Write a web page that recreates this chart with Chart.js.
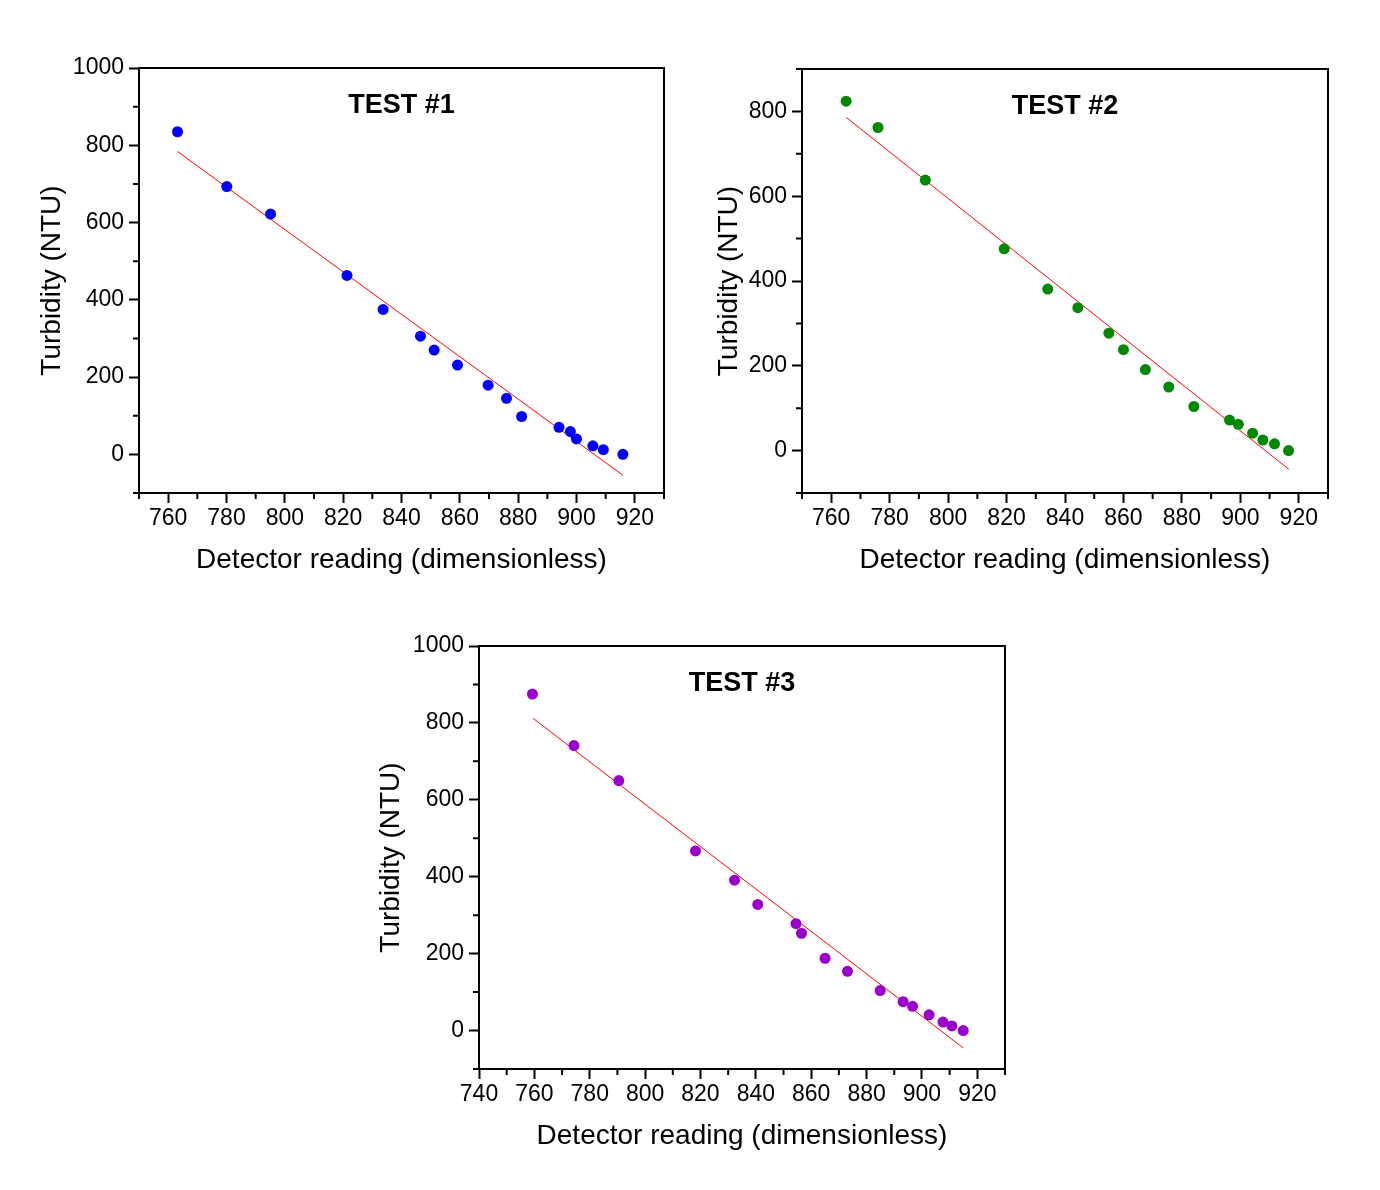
<!DOCTYPE html>
<html>
<head>
<meta charset="utf-8">
<script src="https://cdn.jsdelivr.net/npm/chart.js@4.4.1/dist/chart.umd.min.js"></script>
<style>
  body { margin: 0; background: #fff; }
  #wrap { position: relative; width: 1380px; height: 1190px; }
  canvas { position: absolute; }
</style>
</head>
<body>
<div id="wrap">
  <canvas id="c1" width="680" height="560" style="left:0px;top:40px"></canvas>
  <canvas id="c2" width="664" height="560" style="left:690px;top:40px"></canvas>
  <canvas id="c3" width="691" height="558" style="left:340px;top:618px"></canvas>
</div>
<script>
// readings taken off the three test plots
const test1X = [763.2, 780.1, 795.1, 821.3, 833.7, 846.5, 851.2, 859.2, 869.7, 876.0, 881.2, 894.0, 897.9, 900.0, 905.6, 909.2, 915.9]
const test1Y = [835, 693, 622, 463, 375, 306, 270, 231, 179, 145, 98, 70, 59, 40, 22, 12, 0]
const fit1X = [763.2, 915.9]
const fit1Y = [784, -54]

const test2X = [765.1, 776.0, 792.2, 819.2, 834.1, 844.4, 855.0, 860.0, 867.5, 875.5, 884.1, 896.3, 899.3, 904.2, 907.7, 911.7, 916.5]
const test2Y = [824, 762, 638, 476, 381, 337, 277, 238, 191, 150, 104, 72, 62, 41, 25, 16, 0]
const fit2X = [765.1, 916.6]
const fit2Y = [786, -44]

const test3X = [759.3, 774.3, 790.5, 818.2, 832.3, 840.7, 854.5, 856.5, 865.0, 873.1, 884.9, 893.2, 896.6, 902.6, 907.6, 910.8, 914.9]
const test3Y = [875, 741, 650, 467, 391, 328, 278, 253, 188, 154, 104, 75, 63, 41, 22, 12, 0]
const fit3X = [759.5, 914.9]
const fit3Y = [812, -45]

const xTicksA = [760, 780, 800, 820, 840, 860, 880, 900, 920]
const xTicksB = [740, 760, 780, 800, 820, 840, 860, 880, 900, 920]
const yTicksA = [0, 200, 400, 600, 800, 1000]
const yTicksB = [0, 200, 400, 600, 800]

const FONT = '"Liberation Sans", Arial, sans-serif'

const zip = (xs, ys) => xs.map((x, i) => ({ x: x, y: ys[i] }))

// box round the plot, minor ticks and the TEST label
const framePlugin = {
  id: 'frame',
  afterDraw(chart, args, opts) {
    const { ctx, chartArea: a, scales } = chart
    ctx.save()
    ctx.strokeStyle = '#000'
    ctx.lineWidth = 2
    ctx.strokeRect(a.left, a.top, a.right - a.left, a.bottom - a.top)

    ctx.beginPath()
    for (const [id, s] of Object.entries(scales)) {
      const t = s.ticks.map(k => k.value)
      const half = (t[1] - t[0]) / 2
      for (let v = t[0] - half; v <= s.max; v += 2 * half) {
        if (v < s.min) continue
        const p = s.getPixelForValue(v)
        if (id === 'x') { ctx.moveTo(p, a.bottom); ctx.lineTo(p, a.bottom + 6) }
        else { ctx.moveTo(a.left, p); ctx.lineTo(a.left - 6, p) }
      }
    }
    ctx.stroke()

    ctx.fillStyle = '#000'
    ctx.font = 'bold 27px ' + FONT
    ctx.textAlign = 'center'
    ctx.textBaseline = 'alphabetic'
    ctx.fillText(opts.text, (a.left + a.right) / 2, a.top + 45)
    ctx.restore()
  }
}

function makeChart(id, cfg) {
  return new Chart(document.getElementById(id), {
    type: 'scatter',
    data: {
      datasets: [{
        data: zip(cfg.xs, cfg.ys),
        backgroundColor: cfg.color,
        borderColor: cfg.color,
        borderWidth: 0,
        pointRadius: 5.5,
        pointHoverRadius: 5.5
      }, {
        data: zip(cfg.fitX, cfg.fitY),
        showLine: true,
        borderColor: '#ff0000',
        borderWidth: 1,
        pointRadius: 0
      }]
    },
    plugins: [framePlugin],
    options: {
      responsive: false,
      animation: false,
      devicePixelRatio: 1,
      layout: { padding: { top: cfg.padTop, right: cfg.padRight, left: 0, bottom: 0 } },
      plugins: {
        legend: { display: false },
        tooltip: { enabled: false },
        frame: { text: cfg.title }
      },
      scales: {
        x: {
          type: 'linear',
          min: cfg.xMin,
          max: 930,
          afterBuildTicks: (axis) => { axis.ticks = cfg.xTicks.map(v => ({ value: v })) },
          afterFit: (axis) => { axis.height = 107 },
          grid: { drawOnChartArea: false, tickLength: 10, tickWidth: 2, tickColor: '#000' },
          border: { color: '#000', width: 2 },
          ticks: { color: '#000', font: { family: FONT, size: 23 }, padding: 2, maxRotation: 0,
                   callback: (v) => String(v) },
          title: {
            display: true,
            text: 'Detector reading (dimensionless)',
            color: '#000',
            font: { family: FONT, size: 28 },
            padding: { top: 0, bottom: 23 }
          }
        },
        y: {
          type: 'linear',
          min: -100,
          max: cfg.yMax,
          afterBuildTicks: (axis) => { axis.ticks = cfg.yTicks.map(v => ({ value: v })) },
          afterFit: (axis) => { axis.width = cfg.yWidth },
          grid: { drawOnChartArea: false, tickLength: 10, tickWidth: 2, tickColor: '#000' },
          border: { color: '#000', width: 2 },
          ticks: { color: '#000', font: { family: FONT, size: 23 }, padding: 5,
                   callback: (v) => String(v) },
          title: {
            display: true,
            text: 'Turbidity (NTU)',
            color: '#000',
            font: { family: FONT, size: 28 },
            padding: { top: cfg.yTitlePad, bottom: 0 }
          }
        }
      }
    }
  })
}

makeChart('c1', {
  xs: test1X, ys: test1Y, fitX: fit1X, fitY: fit1Y, color: '#0000ff', title: 'TEST #1',
  xMin: 750, xTicks: xTicksA, yMax: 1000, yTicks: yTicksA,
  padTop: 28, padRight: 16, yWidth: 139, yTitlePad: 35
})
makeChart('c2', {
  xs: test2X, ys: test2Y, fitX: fit2X, fitY: fit2Y, color: '#008800', title: 'TEST #2',
  xMin: 750, xTicks: xTicksA, yMax: 900, yTicks: yTicksB,
  padTop: 29, padRight: 26, yWidth: 112, yTitlePad: 22
})
makeChart('c3', {
  xs: test3X, ys: test3Y, fitX: fit3X, fitY: fit3Y, color: '#9900cc', title: 'TEST #3',
  xMin: 740, xTicks: xTicksB, yMax: 1000, yTicks: yTicksA,
  padTop: 28, padRight: 26, yWidth: 139, yTitlePad: 34
})
</script>
</body>
</html>
